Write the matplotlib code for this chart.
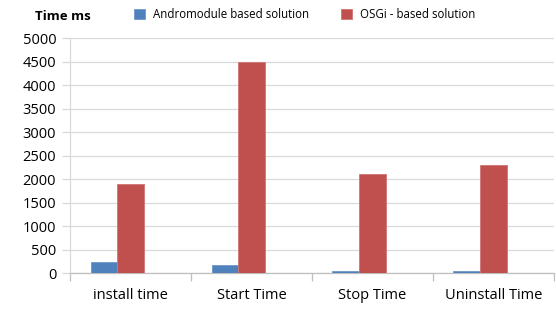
import matplotlib
matplotlib.use("Agg")
import matplotlib.pyplot as plt
import numpy as np

categories = ["install time", "Start Time", "Stop Time", "Uninstall Time"]
andromodule = [230, 180, 40, 40]
osgi = [1900, 4500, 2100, 2300]
series_names = ["Andromodule based solution", "OSGi - based solution"]
yticks = [0, 500, 1000, 1500, 2000, 2500, 3000, 3500, 4000, 4500, 5000]

plt.rcParams['font.family'] = ['Open Sans', 'DejaVu Sans']

fig = plt.figure(figsize=(5.56, 3.09), dpi=100)
ax = fig.add_axes([0.126, 0.1165, 0.870, 0.7595])

x = np.arange(len(categories))
w = 0.22
blue = "#4F81BD"
red = "#C0504D"
ax.bar(x - w, andromodule, w, color=blue, edgecolor="#6F97C8", linewidth=0.6, label=series_names[0], zorder=3)
ax.bar(x, osgi, w, color=red, edgecolor="#D07573", linewidth=0.6, label=series_names[1], zorder=3)

ax.set_xlim(-0.5, len(categories) - 0.5)
ax.set_ylim(0, 5000)
ax.set_yticks(yticks)
ax.set_yticklabels([str(v) for v in yticks], fontsize=10.5)
ax.grid(axis='y', color="#D9D9D9", linewidth=0.9, zorder=0)

ax.set_xticks(np.arange(-0.5, len(categories)), labels=[""] * (len(categories) + 1))
ax.set_xticks(x, labels=categories, minor=True, fontsize=10.5)
ax.tick_params(axis='x', which='major', length=6, color="#BFBFBF", width=0.9)
ax.tick_params(axis='x', which='minor', length=0, pad=11)
ax.tick_params(axis='y', length=6, color="#D9D9D9", width=0.9, pad=4)

for s in ['top', 'right']:
    ax.spines[s].set_visible(False)
ax.spines['left'].set_color("#D9D9D9")
ax.spines['bottom'].set_color("#BFBFBF")
ax.spines['left'].set_linewidth(0.9)
ax.spines['bottom'].set_linewidth(0.9)

fig.text(0.113, 0.945, "Time ms", fontsize=9.5, fontweight='bold', ha='center', va='center')
leg = fig.legend(loc='center', bbox_to_anchor=(0.548, 0.952), ncol=2, frameon=False,
                 fontsize=8.3, handlelength=0.95, handleheight=0.95, columnspacing=2.8, handletextpad=0.7)

fig.savefig("out.png", dpi=100)
